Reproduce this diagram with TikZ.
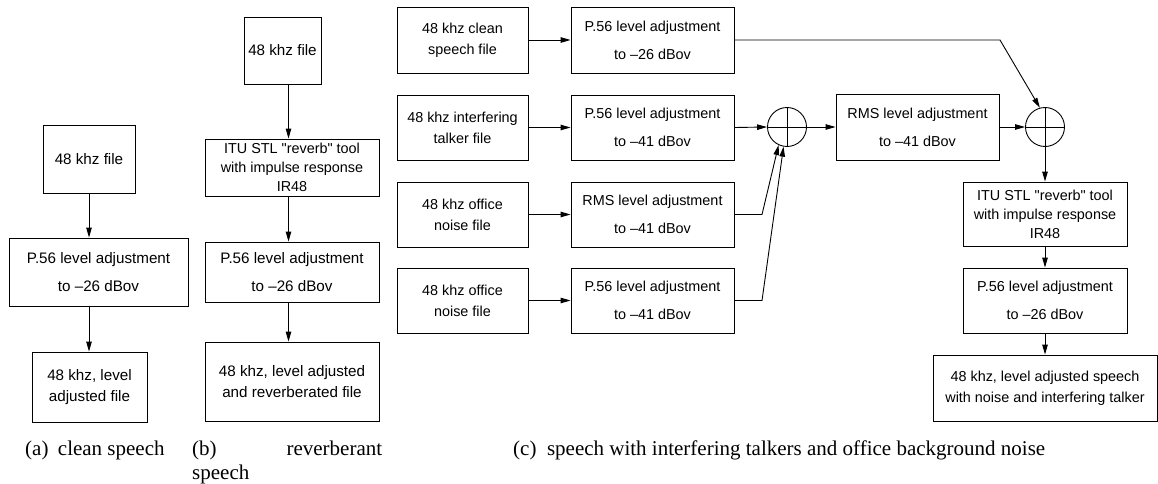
\documentclass[tikz,border=0pt]{standalone}
\usepackage{fontspec}
\setmainfont{Liberation Serif}
\newfontfamily\boxfont{Liberation Sans}
\usetikzlibrary{arrows.meta}
\tikzset{
  box/.style={draw, line width=0.9pt, align=center, inner sep=0pt,
    font=\boxfont\fontsize{15.2}{21}\selectfont},
  boxc/.style={box, font=\boxfont\fontsize{14.4}{21}\selectfont},
  itu/.style={font=\boxfont\fontsize{14.4}{19}\selectfont},
  arr/.style={line width=0.9pt, -{Triangle[length=10pt,width=5.5pt]}},
  sum/.style={draw, line width=0.9pt, circle, minimum size=39pt, inner sep=0pt,
    path picture={\draw[line width=0.9pt] (path picture bounding box.north) -- (path picture bounding box.south)
      (path picture bounding box.west) -- (path picture bounding box.east);}},
  captext/.style={font=\fontsize{21}{24}\selectfont, inner sep=0pt, anchor=base west}
}
\begin{document}
\begin{tikzpicture}[x=1pt,y=-1pt]
\useasboundingbox (0,0) rectangle (1158,484);
% (a)
\node[box, minimum width=92pt, minimum height=68pt] (a1) at (89,159) {48 khz file};
\node[box, minimum width=179pt, minimum height=68pt] (a2) at (98.5,272) {P.56 level adjustment\\[7pt]to –26 dBov};
\node[box, minimum width=115pt, minimum height=70pt] (a3) at (89.5,387) {48 khz, level\\adjusted file};
\draw[arr] (a1.south) -- (a1.south |- a2.north);
\draw[arr] (a1.south |- a2.south) -- (a1.south |- a3.north);
% (b)
\node[box, minimum width=77pt, minimum height=67pt] (b1) at (282.5,50.5) {48 khz file};
\node[box, itu, minimum width=174pt, minimum height=57pt] (b2) at (292,167.5) {ITU STL "reverb" tool\\with impulse response\\IR48};
\node[box, minimum width=174pt, minimum height=60pt] (b3) at (292,272) {P.56 level adjustment\\[7pt]to –26 dBov};
\node[box, minimum width=174pt, minimum height=79pt] (b4) at (292,381.5) {48 khz, level adjusted\\and reverberated file};
\draw[arr] ([xshift=6pt]b1.south) -- ([xshift=6pt]b1.south |- b2.north);
\draw[arr] ([xshift=6pt]b1.south |- b2.south) -- ([xshift=6pt]b1.south |- b3.north);
\draw[arr] ([xshift=6pt]b1.south |- b3.south) -- ([xshift=6pt]b1.south |- b4.north);
% (c)
\node[boxc, minimum width=131pt, minimum height=66pt] (c1) at (462.5,40) {48 khz clean\\speech file};
\node[boxc, minimum width=163pt, minimum height=66pt] (c2) at (652.5,40) {P.56 level adjustment\\[7pt]to –26 dBov};
\node[boxc, minimum width=131pt, minimum height=65pt] (c3) at (462.5,127.5) {48 khz interfering\\talker file};
\node[boxc, minimum width=163pt, minimum height=65pt] (c4) at (652.5,127.5) {P.56 level adjustment\\[7pt]to –41 dBov};
\node[boxc, minimum width=131pt, minimum height=65pt] (c5) at (462.5,214.5) {48 khz office\\noise file};
\node[boxc, minimum width=163pt, minimum height=65pt] (c6) at (652.5,214.5) {RMS level adjustment\\[7pt]to –41 dBov};
\node[boxc, minimum width=131pt, minimum height=65pt] (c7) at (462.5,300.5) {48 khz office\\noise file};
\node[boxc, minimum width=163pt, minimum height=65pt] (c8) at (652.5,300.5) {P.56 level adjustment\\[7pt]to –41 dBov};
\node[sum] (s1) at (787,127) {};
\node[boxc, minimum width=163pt, minimum height=66pt] (c9) at (917.5,127) {RMS level adjustment\\[7pt]to –41 dBov};
\node[sum] (s2) at (1045,127) {};
\node[boxc, itu, minimum width=164pt, minimum height=64pt] (c10) at (1045,214) {ITU STL "reverb" tool\\with impulse response\\IR48};
\node[boxc, minimum width=164pt, minimum height=65pt] (c11) at (1045,300.5) {P.56 level adjustment\\[7pt]to –26 dBov};
\node[boxc, minimum width=224pt, minimum height=66pt] (c12) at (1045,388) {48 khz, level adjusted speech\\with noise and interfering talker};
\coordinate (k1) at (1000,40);
\coordinate (k2) at (762,214.5);
\coordinate (k3) at (762,300.5);
\draw[arr] (c1) -- (c2);
\draw[arr] (c3) -- (c4);
\draw[arr] (c5) -- (c6);
\draw[arr] (c7) -- (c8);
\draw[arr] (c2.east) -- (k1) -- (s2.105);
\draw[arr] (c4.east) -- (s1.west);
\draw[arr] (c6.east) -- (k2) -- (s1.245);
\draw[arr] (c8.east) -- (k3) -- (s1.260);
\draw[arr] (s1.east) -- (c9.west);
\draw[arr] (c9.east) -- (s2.west);
\draw[arr] (s2.south) -- (c10.north);
\draw[arr] (c10.south) -- (c11.north);
\draw[arr] (c11.south) -- (c12.north);
% captions
\node[captext] (capa) at (25,455) {(a)\hskip0.45em clean speech};
\node[captext, text width=190pt, align=justify] (capb) at (192,455) {(b)\hskip0.45em plus 1fill reverberant speech};
\node[captext] (capc) at (513,455) {(c)\hskip0.5em speech with interfering talkers and office background noise};
\end{tikzpicture}
\end{document}
